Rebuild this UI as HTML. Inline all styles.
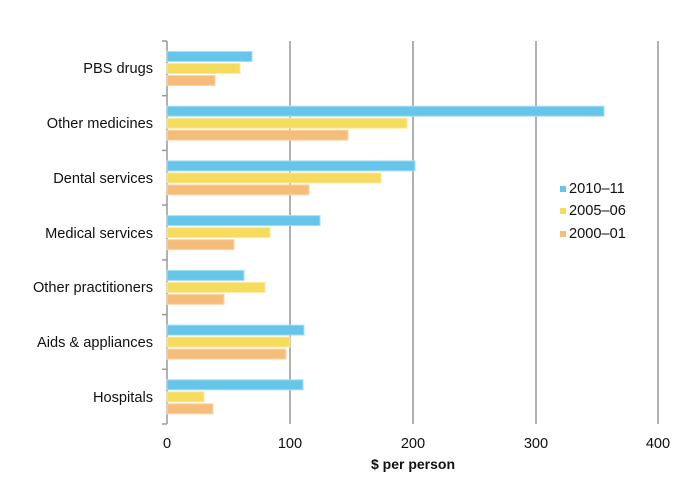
<!DOCTYPE html>
<html><head><style>body{margin:0;background:#fff}svg{display:block}</style></head><body>
<svg width="700" height="491" xmlns="http://www.w3.org/2000/svg" font-family="Liberation Sans, Arial, sans-serif" font-size="14">
<g stroke="#b0b0b0" stroke-width="2">
<line x1="290" y1="41" x2="290" y2="424"/><line x1="413" y1="41" x2="413" y2="424"/>
<line x1="536" y1="41" x2="536" y2="424"/><line x1="658" y1="41" x2="658" y2="424"/>
</g>
<g stroke="#999" stroke-width="1.5">
<line x1="167" y1="41" x2="167" y2="424"/>
<line x1="162" y1="41" x2="167" y2="41"/><line x1="162" y1="95.7" x2="167" y2="95.7"/>
<line x1="162" y1="150.4" x2="167" y2="150.4"/><line x1="162" y1="205.1" x2="167" y2="205.1"/>
<line x1="162" y1="259.9" x2="167" y2="259.9"/><line x1="162" y1="314.6" x2="167" y2="314.6"/>
<line x1="162" y1="369.3" x2="167" y2="369.3"/><line x1="162" y1="424" x2="167" y2="424"/>
</g>
<g stroke-width="1">
<rect x="167" y="51.5" width="85" height="10" fill="#66c6ea" stroke="#a8def2"/>
<rect x="167" y="63.5" width="73" height="10" fill="#f6dc5e" stroke="#faeaa0"/>
<rect x="167" y="75.5" width="48" height="10" fill="#f6bd7a" stroke="#fad6ac"/>
<rect x="167" y="106.2" width="437" height="10" fill="#66c6ea" stroke="#a8def2"/>
<rect x="167" y="118.2" width="240" height="10" fill="#f6dc5e" stroke="#faeaa0"/>
<rect x="167" y="130.2" width="181" height="10" fill="#f6bd7a" stroke="#fad6ac"/>
<rect x="167" y="160.9" width="248" height="10" fill="#66c6ea" stroke="#a8def2"/>
<rect x="167" y="172.9" width="214" height="10" fill="#f6dc5e" stroke="#faeaa0"/>
<rect x="167" y="184.9" width="142" height="10" fill="#f6bd7a" stroke="#fad6ac"/>
<rect x="167" y="215.6" width="153" height="10" fill="#66c6ea" stroke="#a8def2"/>
<rect x="167" y="227.6" width="103" height="10" fill="#f6dc5e" stroke="#faeaa0"/>
<rect x="167" y="239.6" width="67" height="10" fill="#f6bd7a" stroke="#fad6ac"/>
<rect x="167" y="270.4" width="77" height="10" fill="#66c6ea" stroke="#a8def2"/>
<rect x="167" y="282.4" width="98" height="10" fill="#f6dc5e" stroke="#faeaa0"/>
<rect x="167" y="294.4" width="57" height="10" fill="#f6bd7a" stroke="#fad6ac"/>
<rect x="167" y="325.1" width="137" height="10" fill="#66c6ea" stroke="#a8def2"/>
<rect x="167" y="337.1" width="123" height="10" fill="#f6dc5e" stroke="#faeaa0"/>
<rect x="167" y="349.1" width="119" height="10" fill="#f6bd7a" stroke="#fad6ac"/>
<rect x="167" y="379.8" width="136" height="10" fill="#66c6ea" stroke="#a8def2"/>
<rect x="167" y="391.8" width="37" height="10" fill="#f6dc5e" stroke="#faeaa0"/>
<rect x="167" y="403.8" width="46" height="10" fill="#f6bd7a" stroke="#fad6ac"/>
</g>
<g text-anchor="end" fill="#111" font-size="14.6">
<text x="153" y="73">PBS drugs</text>
<text x="153" y="128">Other medicines</text>
<text x="153" y="183">Dental services</text>
<text x="153" y="238">Medical services</text>
<text x="153" y="292">Other practitioners</text>
<text x="153" y="347">Aids &amp; appliances</text>
<text x="153" y="402">Hospitals</text>
</g>
<g text-anchor="middle" fill="#111" font-size="14.6">
<text x="167" y="448">0</text><text x="290" y="448">100</text><text x="413" y="448">200</text>
<text x="536" y="448">300</text><text x="658" y="448">400</text>
<text x="413" y="469" font-weight="bold" font-size="14">$ per person</text>
</g>
<rect x="560" y="186" width="6" height="6" fill="#66c6ea"/>
<rect x="560" y="208" width="6" height="6" fill="#f6dc5e"/>
<rect x="560" y="231" width="6" height="6" fill="#f6bd7a"/>
<g fill="#111" font-size="14.6">
<text x="569" y="193">2010–11</text>
<text x="569" y="215">2005–06</text>
<text x="569" y="238">2000–01</text>
</g>
</svg>
</body></html>
